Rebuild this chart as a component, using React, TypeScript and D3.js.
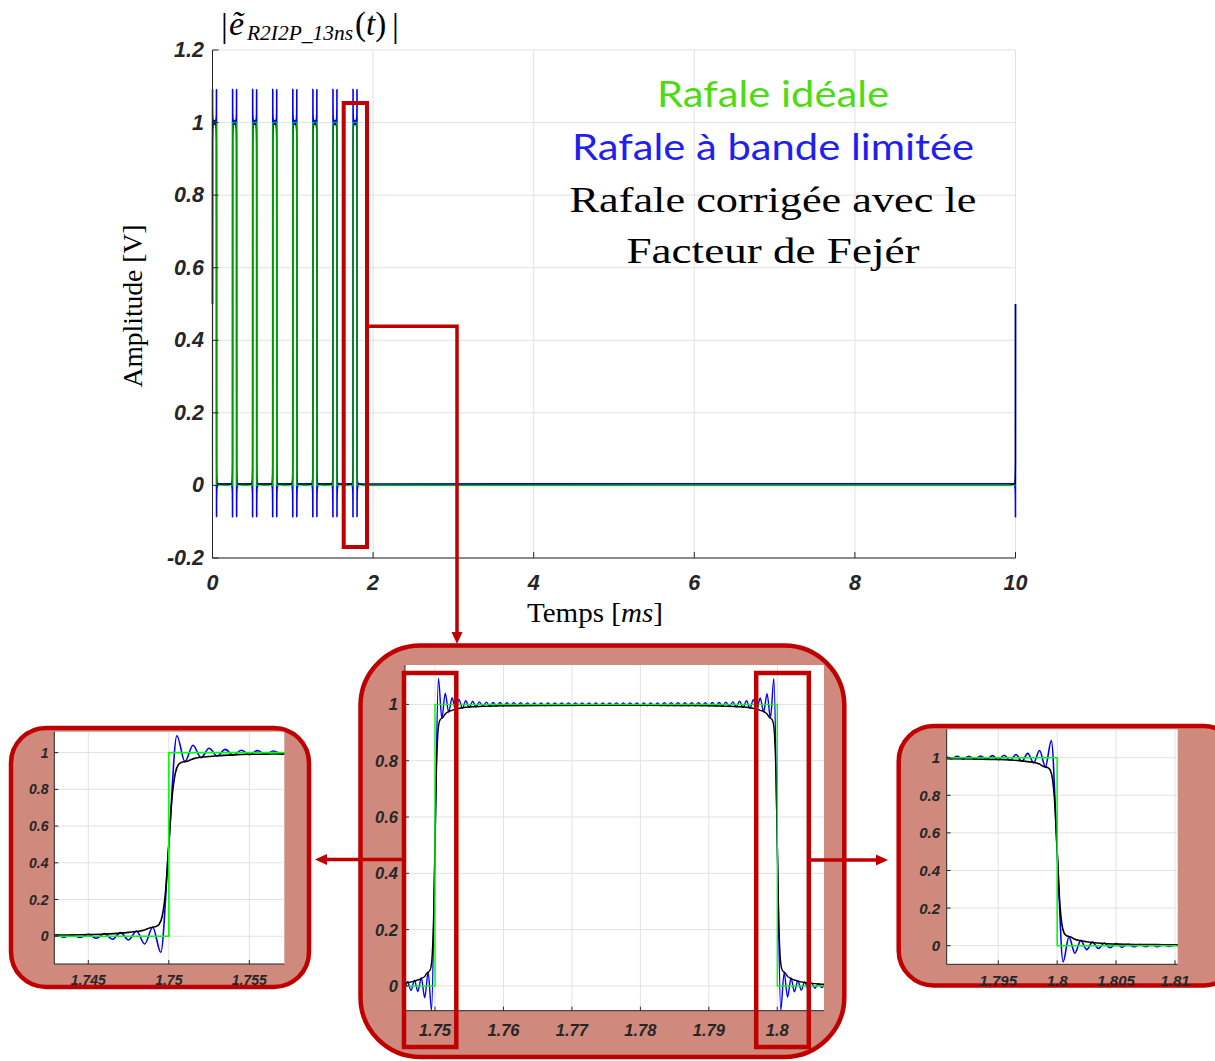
import React from "react";
import * as d3 from "d3";

// ---------------- data ----------------
// burst: 8 pulses of 0.05 ms every 0.25 ms, repeated every 10 ms
const pulseStarts = [0, 0.25, 0.5, 0.75, 1.0, 1.25, 1.5, 1.75];
const nextBurstStart = 10;
const zoomPulseStart = 1.75; // the pulse shown in the insets

// ideal burst (one pulse, absolute time in ms)
const idealT = [1.742, 1.75, 1.75, 1.8, 1.8, 1.811];
const idealV = [0, 0, 1, 1, 0, 0];

// band-limited burst: extrema read every 0.5 µs from 1.742 ms
const bandStartT = 1.742;
const bandStepT = 0.0005;
const bandV = [
  0.005, -0.005,
  0.006, -0.005, 0.007, -0.007, 0.011, -0.011, 0.015, -0.016, 0.02, -0.02, 0.029, -0.042, 0.049, -0.087,
  0.5,
  1.092, 0.951, 1.04, 0.972, 1.024, 0.982, 1.018, 0.986, 1.013, 0.989,
  1.011, 0.991, 1.009, 0.992, 1.008, 0.993, 1.007, 0.994, 1.007, 0.994,
  1.006, 0.995, 1.006, 0.995, 1.006, 0.995, 1.005, 0.995, 1.005, 0.995,
  1.005, 0.995, 1.005, 0.996, 1.005, 0.996, 1.005, 0.996, 1.005, 0.996,
  1.005, 0.996, 1.005, 0.996, 1.005, 0.996, 1.005, 0.996, 1.005, 0.996,
  1.005, 0.996, 1.005, 0.996, 1.005, 0.996, 1.005, 0.996, 1.005, 0.995,
  1.005, 0.995, 1.005, 0.995, 1.005, 0.995, 1.006, 0.995, 1.006, 0.995,
  1.006, 0.995, 1.006, 0.995, 1.006, 0.995, 1.006, 0.995, 1.006, 0.994,
  1.007, 0.994, 1.007, 0.993, 1.008, 0.992, 1.009, 0.991, 1.011, 0.989,
  1.013, 0.986, 1.017, 0.981, 1.023, 0.973, 1.038, 0.952, 1.091,
  0.5,
  -0.086, 0.047, -0.04, 0.028, -0.021, 0.019, -0.015, 0.014, -0.011, 0.011, -0.008, 0.008, -0.006, 0.006,
  -0.005, 0.005, -0.005, 0.005, -0.004, 0.004, -0.004, 0.004,
];

// burst corrected with the Fejér factor
const fejerT = [
  1.66, 1.742,
  1.743, 1.744, 1.745, 1.746, 1.747, 1.7475, 1.748, 1.7485, 1.7488, 1.749, 1.7492, 1.7494, 1.7496, 1.7498, 1.75,
  1.7502, 1.7504, 1.7506, 1.7508, 1.751, 1.7512, 1.7515, 1.752, 1.7525, 1.753, 1.754, 1.755, 1.757, 1.76, 1.765, 1.775,
  1.785, 1.79, 1.793, 1.795, 1.796, 1.797, 1.7975, 1.798, 1.7985, 1.7988, 1.799, 1.7992, 1.7994, 1.7996, 1.7998, 1.8,
  1.8002, 1.8004, 1.8006, 1.8008, 1.801, 1.8012, 1.8015, 1.802, 1.8025, 1.803, 1.804, 1.805, 1.806, 1.807,
  1.808, 1.809, 1.811, 1.89,
];
const fejerV = [
  0.001, 0.005,
  0.006, 0.007, 0.009, 0.012, 0.017, 0.021, 0.026, 0.034, 0.045, 0.049, 0.053, 0.065, 0.113, 0.245, 0.5,
  0.755, 0.887, 0.935, 0.947, 0.951, 0.955, 0.966, 0.975, 0.979, 0.983, 0.988, 0.991, 0.993, 0.995, 0.996, 0.997,
  0.996, 0.995, 0.993, 0.991, 0.988, 0.983, 0.979, 0.975, 0.966, 0.955, 0.951, 0.947, 0.935, 0.887, 0.755, 0.5,
  0.245, 0.113, 0.065, 0.053, 0.049, 0.045, 0.034, 0.026, 0.021, 0.017, 0.012, 0.009, 0.007, 0.006,
  0.006, 0.005, 0.005, 0.001,
];

// ticks
const mainXTicks = [0, 2, 4, 6, 8, 10];
const mainXLabels = ["0", "2", "4", "6", "8", "10"];
const mainYTicks = [-0.2, 0, 0.2, 0.4, 0.6, 0.8, 1, 1.2];
const mainYLabels = ["-0.2", "0", "0.2", "0.4", "0.6", "0.8", "1", "1.2"];
const insetYTicks = [0, 0.2, 0.4, 0.6, 0.8, 1];
const insetYLabels = ["0", "0.2", "0.4", "0.6", "0.8", "1"];
const midXTicks = [1.75, 1.76, 1.77, 1.78, 1.79, 1.8];
const midXLabels = ["1.75", "1.76", "1.77", "1.78", "1.79", "1.8"];
const leftXTicks = [1.745, 1.75, 1.755];
const leftXLabels = ["1.745", "1.75", "1.755"];
const rightXTicks = [1.795, 1.8, 1.805, 1.81];
const rightXLabels = ["1.795", "1.8", "1.805", "1.81"];

const legendLines = ["Rafale idéale", "Rafale à bande limitée", "Rafale corrigée avec le", "Facteur de Fejér"];

// ---------------- styles ----------------
const RED = "#c00000";
const SALMON = "#cf897d";
const AXIS = "#262626";
const GRID = "#e1e1e1";
const C_IDEAL = "#00ff00";
const C_BAND = "#0000ff";
const C_FEJER = "#000000";
const FONT_TICK = "'Liberation Sans', Arial, Helvetica, sans-serif";
const FONT_SERIF = "'Liberation Serif', 'Times New Roman', serif";
const FONT_LEG = "Lato, 'Open Sans', sans-serif";

type Pt = [number, number];

const band: Pt[] = bandV.map((v, i) => [Math.round((bandStartT + i * bandStepT) * 1e7) / 1e7, v]);
const fejer: Pt[] = fejerT.map((t, i) => [t, fejerV[i]]);
const ideal: Pt[] = idealT.map((t, i) => [t, idealV[i]]);

function repeatPulse(shape: Pt[], starts: number[], tMin: number, tMax: number): Pt[] {
  const out: Pt[] = [];
  for (const s of starts) {
    const shift = s - zoomPulseStart;
    for (const [t, v] of shape) {
      const tt = Math.round((t + shift) * 1e7) / 1e7;
      if (tt >= tMin && tt <= tMax) out.push([tt, v]);
    }
  }
  return out;
}

const mainBand = repeatPulse(band, [...pulseStarts, nextBurstStart], 0, 10);
const mainFejer = repeatPulse(fejer, [...pulseStarts, nextBurstStart], 0, 10);
const mainIdeal = [...repeatPulse(ideal, pulseStarts, 0, 10), [10, 0] as Pt];

interface Series { pts: Pt[]; color: string; width: number; opacity?: number; linear?: boolean; }
interface PlotProps {
  id: string; left: number; right: number; top: number; bottom: number;
  xDomain: [number, number]; yDomain: [number, number];
  xTicks: number[]; xTickLabels: string[]; yTicks: number[]; yTickLabels: string[];
  fontSize: number; yLabelX: number; xLabelY: number; tickLen: number; clipPad: number;
  series: Series[];
}

function Plot(p: PlotProps) {
  const x = d3.scaleLinear().domain(p.xDomain).range([p.left, p.right]);
  const y = d3.scaleLinear().domain(p.yDomain).range([p.bottom, p.top]);
  const gen = (s: Series) =>
    d3.line<Pt>().x((d) => x(d[0])).y((d) => y(d[1])).curve(s.linear ? d3.curveLinear : d3.curveMonotoneX)(s.pts) || "";
  return (
    <g>
      <defs>
        <clipPath id={p.id}>
          <rect x={p.left - p.clipPad} y={p.top} width={p.right - p.left + 2 * p.clipPad} height={p.bottom - p.top} />
        </clipPath>
      </defs>
      <rect x={p.left} y={p.top} width={p.right - p.left} height={p.bottom - p.top} fill="#fff" />
      {p.xTicks.map((t, i) => (
        <line key={"gx" + i} x1={x(t)} x2={x(t)} y1={p.top} y2={p.bottom} stroke={GRID} strokeWidth={1} />
      ))}
      {p.yTicks.map((t, i) => (
        <line key={"gy" + i} x1={p.left} x2={p.right} y1={y(t)} y2={y(t)} stroke={GRID} strokeWidth={1} />
      ))}
      <g clipPath={`url(#${p.id})`}>
        {p.series.map((s, i) => (
          <path key={"s" + i} d={gen(s)} fill="none" stroke={s.color} strokeWidth={s.width}
            strokeOpacity={s.opacity ?? 1} strokeLinejoin="round" />
        ))}
      </g>
      <line x1={p.left} x2={p.left} y1={p.top} y2={p.bottom} stroke={AXIS} strokeWidth={1} />
      <line x1={p.left} x2={p.right} y1={p.bottom} y2={p.bottom} stroke={AXIS} strokeWidth={1} />
      {p.xTicks.map((t, i) => (
        <line key={"tx" + i} x1={x(t)} x2={x(t)} y1={p.bottom} y2={p.bottom - p.tickLen} stroke={AXIS} strokeWidth={1} />
      ))}
      {p.yTicks.map((t, i) => (
        <line key={"ty" + i} x1={p.left} x2={p.left + p.tickLen} y1={y(t)} y2={y(t)} stroke={AXIS} strokeWidth={1} />
      ))}
      {p.xTicks.map((t, i) => (
        <text key={"lx" + i} x={x(t)} y={p.xLabelY} textAnchor="middle" dominantBaseline="central"
          fontFamily={FONT_TICK} fontWeight="bold" fontStyle="italic" fontSize={p.fontSize} fill={AXIS}>
          {p.xTickLabels[i]}
        </text>
      ))}
      {p.yTicks.map((t, i) => (
        <text key={"ly" + i} x={p.yLabelX} y={y(t)} textAnchor="end" dominantBaseline="central"
          fontFamily={FONT_TICK} fontWeight="bold" fontStyle="italic" fontSize={p.fontSize} fill={AXIS}>
          {p.yTickLabels[i]}
        </text>
      ))}
    </g>
  );
}

function insetSeries(w: number): Series[] {
  return [
    { pts: band, color: C_BAND, width: w },
    { pts: fejer, color: C_FEJER, width: w },
    { pts: ideal, color: C_IDEAL, width: w, linear: true },
  ];
}

export default function App() {
  return (
    <svg width={1215} height={1061} viewBox="0 0 1215 1061"
      style={{ position: "absolute", left: 0, top: 0, display: "block", background: "#fff" }}>
      {/* ---------- main chart ---------- */}
      <Plot id="clipMain" left={212.5} right={1015.5} top={50} bottom={558}
        xDomain={[0, 10]} yDomain={[-0.2, 1.2]}
        xTicks={mainXTicks} xTickLabels={mainXLabels} yTicks={mainYTicks} yTickLabels={mainYLabels}
        fontSize={21.5} yLabelX={204} xLabelY={583} tickLen={6} clipPad={1.5}
        series={[
          { pts: mainBand, color: C_BAND, width: 1.6 },
          { pts: mainFejer, color: C_FEJER, width: 1.3 },
          { pts: mainIdeal, color: C_IDEAL, width: 1.6, opacity: 0.6, linear: true },
        ]} />

      {/* title */}
      <g fontFamily={FONT_SERIF} fill="#000">
        <text x={221} y={37} fontSize={34}>|</text>
        <text x={229} y={35} fontSize={34} fontStyle="italic">ẽ</text>
        <text x={247} y={40} fontSize={20} fontStyle="italic" textLength={106} lengthAdjust="spacingAndGlyphs">R2I2P_13ns</text>
        <text x={355} y={35} fontSize={33}>(<tspan fontStyle="italic">t</tspan>)</text>
        <text x={392} y={37} fontSize={34}>|</text>
      </g>

      {/* axis labels */}
      <text transform="translate(142,306) rotate(-90)" textAnchor="middle" fontFamily={FONT_SERIF}
        fontSize={27} fill="#000" textLength={163} lengthAdjust="spacingAndGlyphs">Amplitude [V]</text>
      <text x={595} y={622} textAnchor="middle" fontFamily={FONT_SERIF} fontSize={27} fill="#000"
        textLength={136} lengthAdjust="spacingAndGlyphs">Temps [<tspan fontStyle="italic">ms</tspan>]</text>

      {/* legend text */}
      <text x={773} y={107} textAnchor="middle" fontFamily={FONT_LEG} fontSize={36} fill="#4fdb14"
        textLength={232} lengthAdjust="spacingAndGlyphs">{legendLines[0]}</text>
      <text x={773} y={160} textAnchor="middle" fontFamily={FONT_LEG} fontSize={36} fill="#1f1ff0"
        textLength={402} lengthAdjust="spacingAndGlyphs">{legendLines[1]}</text>
      <text x={773} y={212} textAnchor="middle" fontFamily={FONT_SERIF} fontSize={36} fill="#000"
        textLength={407} lengthAdjust="spacingAndGlyphs">{legendLines[2]}</text>
      <text x={773} y={263} textAnchor="middle" fontFamily={FONT_SERIF} fontSize={36} fill="#000"
        textLength={293} lengthAdjust="spacingAndGlyphs">{legendLines[3]}</text>

      {/* highlight of the last pulse */}
      <rect x={343.7} y={103} width={23.3} height={444} fill="none" stroke={RED} strokeWidth={4} />
      <polyline points="367,326.3 457,326.3 457,634" fill="none" stroke={RED} strokeWidth={3.5} />
      <polygon points="451.5,632 462.5,632 457,644" fill={RED} />

      {/* ---------- middle inset ---------- */}
      <rect x={360.5} y={645.5} width={483.8} height={411.5} rx={60} ry={60} fill={SALMON} stroke={RED} strokeWidth={4.5} />
      <Plot id="clipMid" left={405} right={824} top={665} bottom={1010.7}
        xDomain={[1.74562, 1.80682]} yDomain={[-0.088, 1.14]}
        xTicks={midXTicks} xTickLabels={midXLabels} yTicks={insetYTicks} yTickLabels={insetYLabels}
        fontSize={16.5} yLabelX={398} xLabelY={1030} tickLen={4} clipPad={0}
        series={insetSeries(1.4)} />
      <rect x={404} y={673} width={52.3} height={374} fill="none" stroke={RED} strokeWidth={4.5} />
      <rect x={756.2} y={673} width={52.6} height={374} fill="none" stroke={RED} strokeWidth={4.5} />

      {/* ---------- left inset ---------- */}
      <rect x={11} y={728} width={298} height={259} rx={35} ry={35} fill={SALMON} stroke={RED} strokeWidth={4.5} />
      <Plot id="clipLeft" left={54.3} right={284.3} top={731.7} bottom={964}
        xDomain={[1.74289, 1.75717]} yDomain={[-0.151, 1.114]}
        xTicks={leftXTicks} xTickLabels={leftXLabels} yTicks={insetYTicks} yTickLabels={insetYLabels}
        fontSize={14} yLabelX={48.5} xLabelY={980} tickLen={4} clipPad={0}
        series={insetSeries(1.6)} />

      {/* ---------- right inset ---------- */}
      <rect x={898.7} y={726} width={340} height={259.5} rx={35} ry={35} fill={SALMON} stroke={RED} strokeWidth={4.5} />
      <Plot id="clipRight" left={946.7} right={1177.7} top={729.3} bottom={964.3}
        xDomain={[1.79062, 1.81023]} yDomain={[-0.099, 1.151]}
        xTicks={rightXTicks} xTickLabels={rightXLabels} yTicks={insetYTicks} yTickLabels={insetYLabels}
        fontSize={15} yLabelX={940} xLabelY={980} tickLen={4} clipPad={0}
        series={insetSeries(1.6)} />

      {/* connectors to the side insets */}
      <line x1={404} y1={859.5} x2={325} y2={859.5} stroke={RED} strokeWidth={3.5} />
      <polygon points="327,854 327,865 315,859.5" fill={RED} />
      <line x1={808.8} y1={860} x2={878} y2={860} stroke={RED} strokeWidth={3.5} />
      <polygon points="876,854.5 876,865.5 888,860" fill={RED} />
    </svg>
  );
}
